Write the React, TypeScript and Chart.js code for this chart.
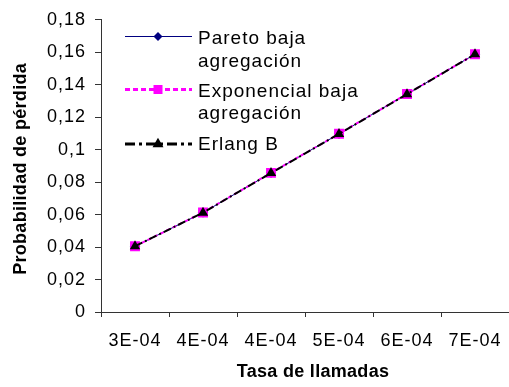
import React, { useEffect, useRef } from "react";
import { Chart, registerables } from "chart.js";

Chart.register(...registerables);

// ---- data ----
const categories = ["3E-04", "4E-04", "4E-04", "5E-04", "6E-04", "7E-04"];
const paretoValues = [0.0405, 0.0612, 0.0857, 0.1097, 0.1343, 0.1588];
const exponencialValues = [0.0405, 0.0613, 0.0857, 0.1098, 0.1343, 0.1588];
const erlangValues = [0.0405, 0.0612, 0.0856, 0.1097, 0.1342, 0.1588];
const seriesNames = ["Pareto baja agregación", "Exponencial baja agregación", "Erlang B"];
const legendLines = [["Pareto baja", "agregación"], ["Exponencial baja", "agregación"], ["Erlang B"]];
const yMin = 0;
const yMax = 0.18;
const yStep = 0.02;
const xTitle = "Tasa de llamadas";
const yTitle = "Probabilidad de pérdida";

const FONT = "'Liberation Sans', Arial, sans-serif";
const AXIS_COLOR = "#333333";

const fmt = (v: number) => String(Math.round(v * 100) / 100).replace(".", ",");

function drawMarker(ctx: CanvasRenderingContext2D, style: string, x: number, y: number, color: string) {
  ctx.save();
  ctx.setLineDash([]);
  ctx.fillStyle = color;
  ctx.beginPath();
  if (style === "diamond") {
    const r = 4.5;
    ctx.moveTo(x, y - r);
    ctx.lineTo(x + r, y);
    ctx.lineTo(x, y + r);
    ctx.lineTo(x - r, y);
    ctx.closePath();
  } else if (style === "square") {
    const s = 4.5;
    ctx.rect(x - s, y - s, 2 * s, 2 * s);
  } else {
    const r = 6.3;
    ctx.moveTo(x, y - r);
    ctx.lineTo(x + r * 0.866, y + r * 0.5);
    ctx.lineTo(x - r * 0.866, y + r * 0.5);
    ctx.closePath();
  }
  ctx.fill();
  ctx.restore();
}

const spacingPlugin = {
  id: "spacing",
  beforeDraw(chart: any) {
    (chart.ctx as any).letterSpacing = "1px";
  },
};

const decorPlugin = {
  id: "decor",
  afterDraw(chart: any) {
    const ctx: CanvasRenderingContext2D = chart.ctx;
    const area = chart.chartArea;
    ctx.save();
    ctx.fillStyle = "#000";
    // axis titles
    ctx.font = `bold 18px ${FONT}`;
    (ctx as any).letterSpacing = "0.3px";
    ctx.textAlign = "center";
    ctx.textBaseline = "middle";
    ctx.fillText(xTitle, (area.left + area.right) / 2 + 8, 372);
    ctx.save();
    ctx.translate(21, (area.top + area.bottom) / 2 + 3);
    ctx.rotate(-Math.PI / 2);
    ctx.fillText(yTitle, 0, 0);
    ctx.restore();

    // legend
    const rows = [
      { lineY: 36.5, baselines: [44, 66.5], color: "#000080", width: 1, dash: [] as number[], marker: "diamond" },
      { lineY: 89.5, baselines: [97, 119], color: "#FF00FF", width: 3, dash: [5, 3], marker: "square" },
      { lineY: 144, baselines: [149.5], color: "#000000", width: 3, dash: [10, 4, 3, 4], marker: "triangle" },
    ];
    const x0 = 125;
    const x1 = 192;
    ctx.font = `19px ${FONT}`;
    (ctx as any).letterSpacing = "1px";
    ctx.textAlign = "left";
    ctx.textBaseline = "alphabetic";
    rows.forEach((row, i) => {
      ctx.save();
      ctx.strokeStyle = row.color;
      ctx.lineWidth = row.width;
      ctx.setLineDash(row.dash);
      ctx.beginPath();
      ctx.moveTo(x0, row.lineY);
      ctx.lineTo(x1, row.lineY);
      ctx.stroke();
      ctx.restore();
      drawMarker(ctx, row.marker, (x0 + x1) / 2 - 0.5, row.lineY, row.color);
      ctx.fillStyle = "#000";
      legendLines[i].forEach((t, j) => ctx.fillText(t, 198, row.baselines[j]));
    });
    ctx.restore();
  },
};

export default function App() {
  const ref = useRef<HTMLCanvasElement | null>(null);

  useEffect(() => {
    if (!ref.current) return;
    const chart = new Chart(ref.current, {
      type: "line",
      data: {
        labels: categories,
        datasets: [
          {
            label: seriesNames[0],
            data: paretoValues,
            borderColor: "#000080",
            backgroundColor: "#000080",
            borderWidth: 1,
            pointStyle: "rectRot",
            pointRadius: 4.5,
            pointBorderWidth: 1,
            fill: false,
            tension: 0,
            order: 2,
          },
          {
            label: seriesNames[1],
            data: exponencialValues,
            borderColor: "#FF00FF",
            backgroundColor: "#FF00FF",
            borderWidth: 2,
            borderDash: [4, 3],
            pointStyle: "rect",
            pointRadius: 7,
            pointBorderWidth: 0,
            fill: false,
            tension: 0,
            order: 1,
          },
          {
            label: seriesNames[2],
            data: erlangValues,
            borderColor: "#000000",
            backgroundColor: "#000000",
            borderWidth: 2,
            borderDash: [8, 3, 2, 3],
            pointStyle: "triangle",
            pointRadius: 6,
            pointBorderWidth: 0,
            fill: false,
            tension: 0,
            order: 0,
          },
        ],
      },
      options: {
        animation: false,
        responsive: false,
        devicePixelRatio: 1,
        layout: { autoPadding: false, padding: { top: 19, left: 0, right: 0, bottom: 0 } },
        plugins: {
          legend: { display: false },
          tooltip: { enabled: false },
          title: { display: false },
        },
        scales: {
          x: {
            type: "category",
            offset: true,
            grid: {
              display: true,
              drawOnChartArea: false,
              drawTicks: true,
              tickLength: 5,
              color: AXIS_COLOR,
              offset: true,
            },
            border: { display: true, color: AXIS_COLOR, width: 1 },
            ticks: {
              color: "#000",
              font: { family: FONT, size: 18 },
              padding: 13,
              maxRotation: 0,
              autoSkip: false,
            },
            afterFit: (s: any) => {
              s.height = 75;
              s.paddingLeft = 0;
              s.paddingRight = 0;
            },
          },
          y: {
            min: yMin,
            max: yMax,
            grid: {
              display: true,
              drawOnChartArea: false,
              drawTicks: true,
              tickLength: 6,
              color: AXIS_COLOR,
            },
            border: { display: true, color: AXIS_COLOR, width: 1 },
            ticks: {
              stepSize: yStep,
              color: "#000",
              font: { family: FONT, size: 18 },
              padding: 9,
              callback: (v: any) => fmt(Number(v)),
            },
            afterFit: (s: any) => {
              s.width = 101;
            },
          },
        },
      },
      plugins: [spacingPlugin, decorPlugin],
    });
    return () => chart.destroy();
  }, []);

  return (
    <div style={{ position: "fixed", left: 0, top: 0, width: 509, height: 387, background: "#fff" }}>
      <canvas ref={ref} width={509} height={387} style={{ display: "block" }} />
    </div>
  );
}
